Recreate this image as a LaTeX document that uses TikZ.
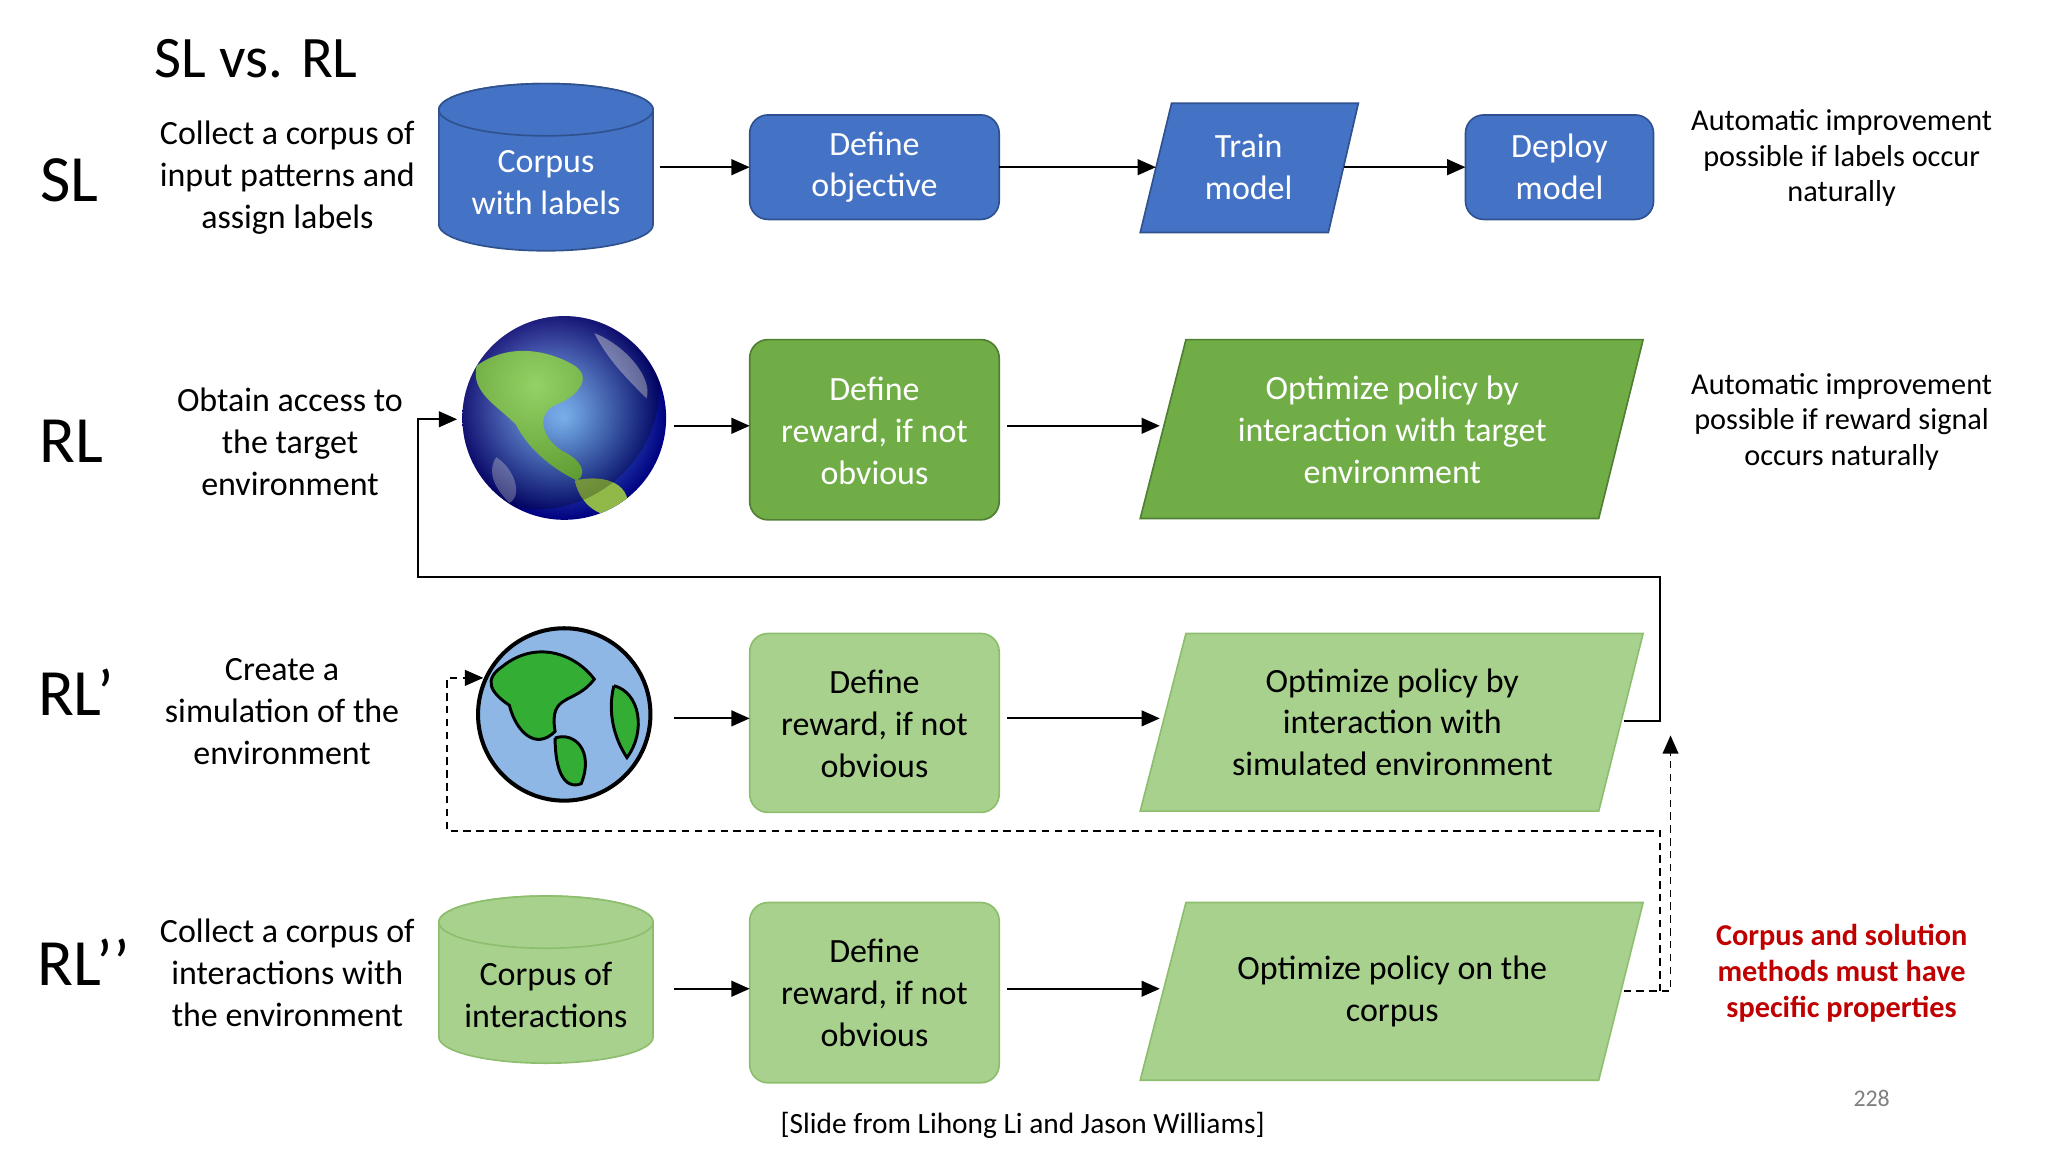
\documentclass[tikz,border=0pt]{standalone}
\usepackage{fontspec}
\setmainfont{Carlito}
\usetikzlibrary{arrows.meta}
\definecolor{bfill}{HTML}{4472C4}\definecolor{bdraw}{HTML}{2F528F}
\definecolor{gfill}{HTML}{70AD47}\definecolor{gdraw}{HTML}{507E32}
\definecolor{lfill}{HTML}{A9D18E}\definecolor{ldraw}{HTML}{8DBE6E}
\begin{document}
\begin{tikzpicture}[x=0.025cm,y=0.025cm,
  desc/.style={align=center,font=\fontsize{18.5}{22.8}\selectfont},
  side/.style={align=center,font=\fontsize{16.5}{19.5}\selectfont},
  row/.style={font=\fontsize{36}{40}\selectfont},
  box/.style={rounded corners=0.35cm,line width=0.9pt},
  btxt/.style={align=center,font=\fontsize{18.5}{22.8}\selectfont},
  arr/.style={-{Triangle[length=0.35cm,width=0.3cm]},line width=1.2pt},
  darr/.style={-{Triangle[length=0.35cm,width=0.3cm]},line width=1pt,dash pattern=on 4pt off 3pt}]
\useasboundingbox (0,0) rectangle (1568,-882);
\node[font=\fontsize{32}{36}\selectfont] (title) at (196,-45) {SL vs. RL};
\node[row] (lsl) at (53,-138) {SL};
\node[row] (lrl) at (55,-338) {RL};
\node[row] (lrl1) at (58,-530) {RL’};
\node[row] (lrl2) at (64,-737) {RL’’};
\node[desc] (d1) at (220,-136) {Collect a corpus of\\input patterns and\\assign labels};
\node[desc] (d2) at (222,-338) {Obtain access to\\the target\\environment};
\node[desc] (d3) at (216,-545) {Create a\\simulation of the\\environment};
\node[desc] (d4) at (220,-745) {Collect a corpus of\\interactions with\\the environment};
% SL row
\draw[fill=bfill,draw=bdraw,line width=0.9pt] (336,-84) -- (336,-172) arc (180:360:82 and 20) -- (500,-84) arc (0:180:82 and 20) -- cycle;
\draw[fill=bfill,draw=bdraw,line width=0.9pt] (418,-84) ellipse (82 and 20);
\node[btxt,text=white] (c1) at (418,-140) {Corpus\\with labels};
\draw[box,fill=bfill,draw=bdraw] (574,-88) rectangle (765,-168);
\node[btxt,text=white] (o1) at (669.5,-128) {Define\\objective};
\draw[fill=bfill,draw=bdraw,line width=0.9pt] (897,-79) -- (1040,-79) -- (1017,-178) -- (873,-178) -- cycle;
\node[btxt,text=white] (t1) at (956,-128) {Train\\model};
\draw[box,fill=bfill,draw=bdraw] (1122,-88) rectangle (1266,-168);
\node[btxt,text=white] (m1) at (1194,-128) {Deploy\\model};
\coordinate (a1) at (505,-128); \coordinate (a1e) at (574,-128);
\coordinate (a2) at (765,-128); \coordinate (a2e) at (885,-128);
\coordinate (a3) at (1029,-128); \coordinate (a3e) at (1122,-128);
\draw[arr] (a1) -- (a1e); \draw[arr] (a2) -- (a2e); \draw[arr] (a3) -- (a3e);
\node[side] (s1) at (1410,-121) {Automatic improvement\\possible if labels occur\\naturally};
% RL row: photographic earth
\begin{scope}
\clip (432,-320) circle (78);
\shade[inner color=cyan!50!blue!60,outer color=blue!50!black] (432,-320) circle (78);
\fill[green!40!olive!80] (365,-280) .. controls (390,-262) and (420,-268) .. (440,-280) .. controls (455,-290) and (440,-305) .. (425,-310) .. controls (410,-318) and (415,-335) .. (430,-345) .. controls (445,-352) and (450,-362) .. (442,-368) .. controls (425,-360) and (405,-345) .. (395,-325) .. controls (380,-310) and (360,-300) .. (365,-280);
\fill[green!35!brown!85] (440,-368) .. controls (465,-362) and (485,-372) .. (480,-392) .. controls (465,-400) and (445,-390) .. (440,-368);
\fill[white,opacity=0.45] (455,-255) .. controls (480,-265) and (500,-290) .. (495,-305) .. controls (480,-290) and (465,-275) .. (455,-255);
\fill[white,opacity=0.35] (380,-350) .. controls (395,-360) and (400,-380) .. (390,-385) .. controls (380,-375) and (372,-362) .. (380,-350);
\shade[inner color=white,outer color=black,opacity=0.25] (410,-295) circle (95);
\end{scope}
\node (e1) at (432,-320) {};
\draw[box,fill=gfill,draw=gdraw] (574,-260) rectangle (765,-398);
\node[btxt,text=white] (r2) at (669.5,-330) {Define\\reward, if not\\obvious};
\draw[fill=gfill,draw=gdraw,line width=0.9pt] (908,-260) -- (1258,-260) -- (1224,-397) -- (873,-397) -- cycle;
\node[btxt,text=white] (p2) at (1066,-329) {Optimize policy by\\interaction with target\\environment};
\coordinate (b1) at (516,-326); \coordinate (b1e) at (574,-326);
\coordinate (b2) at (771,-326); \coordinate (b2e) at (888,-326);
\draw[arr] (b1) -- (b1e); \draw[arr] (b2) -- (b2e);
\node[side] (s2) at (1410,-323) {Automatic improvement\\possible if reward signal\\occurs naturally};
% RL' row: cartoon globe
\draw[line width=2.2pt,fill=cyan!60!blue!45] (432,-547) circle (66);
\draw[line width=1.6pt,fill=green!60!black!80] (385,-510) .. controls (410,-490) and (440,-500) .. (455,-520) .. controls (440,-540) and (420,-530) .. (425,-560) .. controls (410,-575) and (395,-560) .. (390,-540) .. controls (375,-530) and (370,-520) .. (385,-510);
\draw[line width=1.6pt,fill=green!60!black!80] (425,-565) .. controls (440,-560) and (455,-575) .. (445,-600) .. controls (432,-605) and (425,-590) .. (425,-565);
\draw[line width=1.6pt,fill=green!60!black!80] (470,-525) .. controls (490,-530) and (495,-560) .. (480,-580) .. controls (470,-565) and (465,-545) .. (470,-525);
\node (e2) at (432,-547) {};
\draw[box,fill=lfill,draw=ldraw] (574,-485) rectangle (765,-622);
\node[btxt] (r3) at (669.5,-554) {Define\\reward, if not\\obvious};
\draw[fill=lfill,draw=ldraw,line width=0.9pt] (908,-485) -- (1258,-485) -- (1224,-621) -- (873,-621) -- cycle;
\node[btxt] (p3) at (1066,-553) {Optimize policy by\\interaction with\\simulated environment};
\coordinate (c1a) at (516,-550); \coordinate (c1e) at (574,-550);
\coordinate (c2) at (771,-550); \coordinate (c2e) at (888,-550);
\draw[arr] (c1a) -- (c1e); \draw[arr] (c2) -- (c2e);
% RL'' row
\draw[fill=lfill,draw=ldraw,line width=0.9pt] (336,-706) -- (336,-794) arc (180:360:82 and 20) -- (500,-706) arc (0:180:82 and 20) -- cycle;
\draw[fill=lfill,draw=ldraw,line width=0.9pt] (418,-706) ellipse (82 and 20);
\node[btxt] (c4) at (418,-762) {Corpus of\\interactions};
\draw[box,fill=lfill,draw=ldraw] (574,-691) rectangle (765,-829);
\node[btxt] (r4) at (669.5,-760) {Define\\reward, if not\\obvious};
\draw[fill=lfill,draw=ldraw,line width=0.9pt] (908,-691) -- (1258,-691) -- (1224,-827) -- (873,-827) -- cycle;
\node[btxt] (p4) at (1066,-759) {Optimize policy on the\\corpus};
\coordinate (d1a) at (516,-757); \coordinate (d1e) at (574,-757);
\coordinate (d2) at (771,-757); \coordinate (d2e) at (888,-757);
\draw[arr] (d1a) -- (d1e); \draw[arr] (d2) -- (d2e);
\node[side,text={rgb,255:red,192;green,0;blue,0},font=\bfseries\fontsize{16.5}{19.5}\selectfont] (s4) at (1410,-745) {Corpus and solution\\methods must have\\specific properties};
% feedback connectors
\coordinate (f0) at (1243,-552); \coordinate (f1) at (1271,-552); \coordinate (f2) at (1271,-442);
\coordinate (f3) at (320,-442); \coordinate (f4) at (320,-321); \coordinate (f5) at (350,-321);
\draw[arr] (f0) -- (f1) -- (f2) -- (f3) -- (f4) -- (f5);
\coordinate (g0) at (1243,-759); \coordinate (g1) at (1279,-759); \coordinate (g2) at (1279,-563);
\draw[darr] (g0) -- (g1) -- (g2);
\coordinate (h0) at (1271,-759); \coordinate (h1) at (1271,-636); \coordinate (h2) at (342,-636);
\coordinate (h3) at (342,-519); \coordinate (h4) at (370,-519);
\draw[darr] (h0) -- (h1) -- (h2) -- (h3) -- (h4);
\node[text=gray,font=\fontsize{13}{15}\selectfont] (pg) at (1433,-841) {228};
\node[font=\fontsize{16}{19}\selectfont] (cite) at (783,-862) {[Slide from Lihong Li and Jason Williams]};
\end{tikzpicture}
\end{document}
